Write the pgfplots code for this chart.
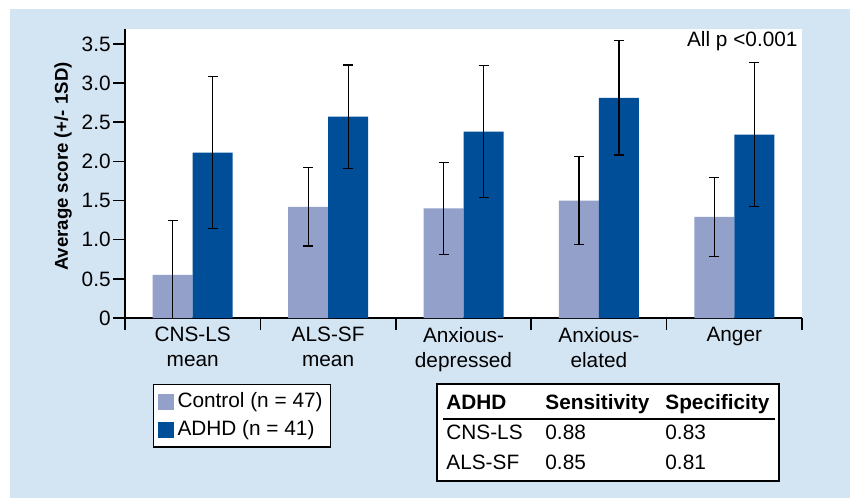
\documentclass[border=0pt]{standalone}
\usepackage{pgfplots}
\pgfplotsset{compat=1.18}
\usepackage{fontspec}
\setmainfont{Liberation Sans}
\definecolor{bgblue}{RGB}{211,228,243}
\definecolor{ctrl}{RGB}{147,161,202}
\definecolor{adhd}{RGB}{0,78,152}
\newcommand{\tf}{\fontsize{10.4pt}{12.5pt}\selectfont}
\begin{document}
\begin{tikzpicture}
\begin{scope}[x=0.5pt,y=0.5pt]
\path[use as bounding box] (0,0) rectangle (854,498);
\fill[bgblue] (10,0) rectangle (850,489);
\end{scope}
\begin{axis}[
  at={(62.5pt,90pt)}, anchor=south west,
  scale only axis, width=338.5pt, height=144.5pt,
  axis background/.style={fill=white},
  axis lines=left, axis line style={-, line width=0.75pt},
  tick align=outside, major tick length=6pt,
  tick style={line width=0.75pt, black},
  xmin=0, xmax=5, ymin=0, ymax=3.69,
  xtick={0,1,2,3,4,5}, xticklabels={},
  extra x ticks={0.5,1.5,2.5,3.5,4.5},
  extra x tick labels={{CNS-LS\\mean},{ALS-SF\\mean},{Anxious-\\depressed},{Anxious-\\elated},{Anger}},
  extra x tick style={major tick length=0pt},
  xticklabel style={align=center, font=\tf, anchor=north, yshift=-1pt},
  ytick={0,0.5,1,1.5,2,2.5,3,3.5},
  yticklabels={0,0.5,1.0,1.5,2.0,2.5,3.0,3.5},
  yticklabel style={font=\tf, inner sep=1pt},
  /pgf/number format/assume math mode=true,
  ylabel={Average score (+/- 1SD)},
  ylabel style={at={(axis description cs:-0.0916,0.524)}, anchor=center, font=\fontsize{9.3pt}{11pt}\selectfont\bfseries},
  ybar=0pt, bar width=20pt,
  legend style={at={(axis description cs:0.041,-0.228)}, anchor=north west,
    draw=black, line width=0.75pt, fill=white, font=\tf, inner sep=2pt,
    row sep=1pt},
  legend cell align=left,
  legend image code/.code={\fill[#1] (0pt,-4pt) rectangle (8pt,4pt);},
  error bars/error bar style={black, line width=0.6pt},
]
\addplot[fill=ctrl, draw=none,
  error bars/.cd, y dir=both, y explicit,
  error mark options={rotate=90, mark size=2.5pt, black, line width=0.6pt}]
  table[x=x, y=y, y error=e] {
x y e
0.5 0.55 0.69
1.5 1.42 0.50
2.5 1.40 0.59
3.5 1.50 0.56
4.5 1.29 0.50
};
\addlegendentry{Control (n = 47)}
\addplot[fill=adhd, draw=none,
  error bars/.cd, y dir=both, y explicit,
  error mark options={rotate=90, mark size=2.5pt, black, line width=0.6pt}]
  table[x=x, y=y, y error=e] {
x y e
0.5 2.11 0.97
1.5 2.57 0.66
2.5 2.38 0.84
3.5 2.81 0.73
4.5 2.34 0.92
};
\addlegendentry{ADHD (n = 41)}
\node[anchor=base east, font=\tf, inner sep=0pt] at (rel axis cs:0.994,0.938) {All p <0.001};
\end{axis}
\begin{scope}[x=0.5pt,y=0.5pt]
\draw[line width=0.75pt, fill=white] (437,114) rectangle (779,17);
\draw[line width=0.75pt] (443,79) -- (775,79);
\begin{scope}[every node/.style={anchor=base west, inner sep=0pt, font=\tf}]
\node[font=\tf\bfseries] at (446,89) {ADHD};
\node[font=\tf\bfseries] at (545,89) {Sensitivity};
\node[font=\tf\bfseries] at (665,89) {Specificity};
\node at (446,59) {CNS-LS};
\node at (545,59) {0.88};
\node at (665,59) {0.83};
\node at (446,29) {ALS-SF};
\node at (545,29) {0.85};
\node at (665,29) {0.81};
\end{scope}
\end{scope}
\end{tikzpicture}
\end{document}
